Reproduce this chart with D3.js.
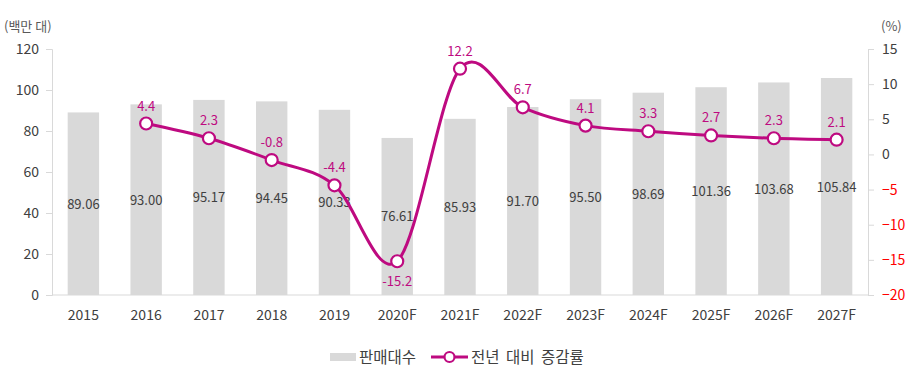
<!DOCTYPE html>
<html>
<meta charset="utf-8">
<title>판매대수 / 전년 대비 증감률</title>
<style>
  body { margin: 0; background: #fff; }
  text { font-family: "Noto Sans CJK KR", "Malgun Gothic", sans-serif; }
</style>
<body>
<div id="chartContainer"></div>
<script src="https://d3js.org/d3.v7.min.js"></script>
<script>
// data
var years = ["2015", "2016", "2017", "2018", "2019", "2020F", "2021F", "2022F", "2023F", "2024F", "2025F", "2026F", "2027F"];
var sales = [89.06, 93.00, 95.17, 94.45, 90.33, 76.61, 85.93, 91.70, 95.50, 98.69, 101.36, 103.68, 105.84];
var growth = [null, 4.4, 2.3, -0.8, -4.4, -15.2, 12.2, 6.7, 4.1, 3.3, 2.7, 2.3, 2.1];
var leftTicks = [0, 20, 40, 60, 80, 100, 120];
var rightTicks = [-20, -15, -10, -5, 0, 5, 10, 15];

var W = 920, H = 372;
var plotL = 52, plotR = 868, plotT = 49, plotB = 295;
var barColor = "#d9d9d9", lineColor = "#be0a80", textColor = "#404040";

var svg = d3.select("#chartContainer").append("svg")
  .attr("width", W).attr("height", H);

var x = d3.scaleBand().domain(years).range([plotL, plotR]).paddingInner(0.5).paddingOuter(0.25);
var yL = d3.scaleLinear().domain([0, 120]).range([plotB, plotT]);
var yR = d3.scaleLinear().domain([-20, 15]).range([plotB, plotT]);

// left axis
var la = svg.append("g").attr("transform", "translate(" + plotL + ",0)")
  .call(d3.axisLeft(yL).tickValues(leftTicks).tickSize(6).tickPadding(7));
la.select(".domain").attr("stroke", barColor);
la.selectAll(".tick line").attr("stroke", barColor);
la.selectAll(".tick text").attr("fill", textColor).style("font-size", "14px")
  .style("font-family", "\"Noto Sans CJK KR\", sans-serif");

// right axis
var ra = svg.append("g").attr("transform", "translate(" + plotR + ",0)")
  .call(d3.axisRight(yR).tickValues(rightTicks).tickSize(6).tickPadding(8));
ra.select(".domain").attr("stroke", barColor);
ra.selectAll(".tick line").attr("stroke", barColor);
ra.selectAll(".tick text")
  .attr("fill", function (d) { return d < 0 ? "#ff0000" : textColor; })
  .style("font-size", "14px")
  .style("font-family", "\"Noto Sans CJK KR\", sans-serif");

// bars
svg.selectAll("rect.bar").data(sales).enter().append("rect")
  .attr("class", "bar")
  .attr("x", function (d, i) { return x(years[i]); })
  .attr("width", x.bandwidth())
  .attr("y", function (d) { return yL(d); })
  .attr("height", function (d) { return yL(0) - yL(d); })
  .attr("fill", barColor);

// x baseline
svg.append("line")
  .attr("x1", plotL).attr("x2", plotR)
  .attr("y1", yL(0)).attr("y2", yL(0))
  .attr("stroke", barColor);

// bar labels, middle of bar
svg.selectAll("text.barlab").data(sales).enter().append("text")
  .attr("class", "barlab")
  .attr("x", function (d, i) { return x(years[i]) + x.bandwidth() / 2; })
  .attr("y", function (d) { return (yL(d) + yL(0)) / 2 + 5; })
  .attr("text-anchor", "middle")
  .attr("fill", textColor)
  .style("font-size", "13px")
  .text(function (d) { return d.toFixed(2); });

// x labels
svg.selectAll("text.xlab").data(years).enter().append("text")
  .attr("class", "xlab")
  .attr("x", function (d) { return x(d) + x.bandwidth() / 2; })
  .attr("y", 320)
  .attr("text-anchor", "middle")
  .attr("fill", textColor)
  .style("font-size", "14px")
  .text(function (d) { return d; });

// growth line
var pts = growth.map(function (g, i) { return { yr: years[i], v: g }; })
  .filter(function (d) { return d.v !== null; });
var line = d3.line()
  .x(function (d) { return x(d.yr) + x.bandwidth() / 2; })
  .y(function (d) { return yR(d.v); })
  .curve(d3.curveCardinal.tension(0));

svg.append("path").datum(pts)
  .attr("d", line)
  .attr("fill", "none")
  .attr("stroke", lineColor)
  .attr("stroke-width", 3);

svg.selectAll("circle.pt").data(pts).enter().append("circle")
  .attr("class", "pt")
  .attr("cx", function (d) { return x(d.yr) + x.bandwidth() / 2; })
  .attr("cy", function (d) { return yR(d.v); })
  .attr("r", 6)
  .attr("fill", "#fff")
  .attr("stroke", lineColor)
  .attr("stroke-width", 2.2);

svg.selectAll("text.ptlab").data(pts).enter().append("text")
  .attr("class", "ptlab")
  .attr("x", function (d) { return x(d.yr) + x.bandwidth() / 2; })
  .attr("y", function (d) { return d.v < -10 ? yR(d.v) + 25 : yR(d.v) - 13; })
  .attr("text-anchor", "middle")
  .attr("fill", lineColor)
  .style("font-size", "13px")
  .text(function (d) { return d.v.toFixed(1); });

// unit labels
svg.append("text").attr("x", 4).attr("y", 31)
  .attr("fill", "#595959").style("font-size", "13px").text("(백만 대)");
svg.append("text").attr("x", 881).attr("y", 31)
  .attr("fill", "#595959").style("font-size", "13px").text("(%)");

// legend
var lg = svg.append("g").attr("transform", "translate(0,357)");
lg.append("rect").attr("x", 330).attr("y", -4).attr("width", 26).attr("height", 8).attr("fill", barColor);
lg.append("text").attr("x", 359).attr("y", 5.5).attr("fill", textColor)
  .style("font-size", "15.5px").text("판매대수");
lg.append("line").attr("x1", 431).attr("x2", 468).attr("y1", 0).attr("y2", 0)
  .attr("stroke", lineColor).attr("stroke-width", 3);
lg.append("circle").attr("cx", 449.5).attr("cy", 0).attr("r", 5)
  .attr("fill", "#fff").attr("stroke", lineColor).attr("stroke-width", 2.2);
lg.append("text").attr("x", 471).attr("y", 5.5).attr("fill", textColor)
  .style("font-size", "15.5px").style("word-spacing", "3px").text("전년 대비 증감률");
</script>
</body>
</html>
